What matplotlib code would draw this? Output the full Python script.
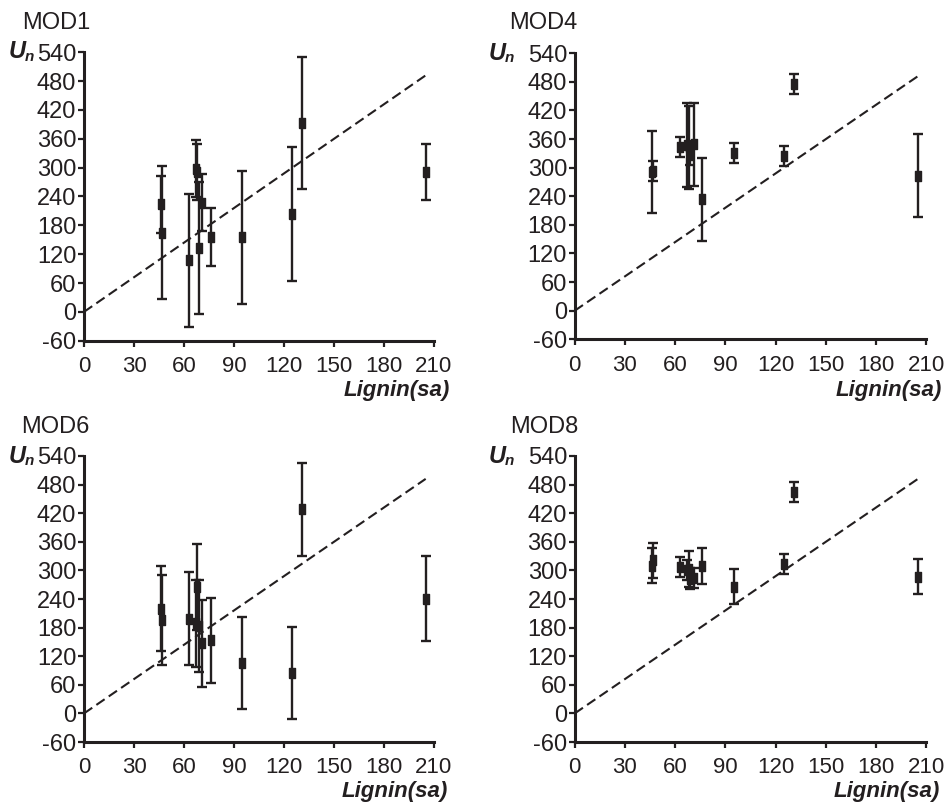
import numpy as np
import matplotlib
matplotlib.use("Agg")
import matplotlib.pyplot as plt

plt.rcParams['font.family'] = ['Liberation Sans', 'DejaVu Sans']
plt.rcParams['axes.unicode_minus'] = False

#----------------------------------------------------------------------
# Data
#----------------------------------------------------------------------
lignin = [46, 47, 63, 67, 68, 69, 71, 76, 95, 125, 131, 205]

mod1_y = [224, 165, 107, 298, 291, 133, 227, 156, 155, 204, 393, 291]
mod1_e = [59, 138, 139, 59, 59, 137, 59, 60, 138, 139, 138, 59]

mod4_y = [291, 293, 343, 347, 343, 326, 349, 234, 330, 325, 475, 283]
mod4_e = [87, 21, 21, 88, 87, 21, 87, 87, 21, 21, 21, 87]

mod6_y = [220, 196, 199, 189, 266, 183, 147, 153, 106, 85, 428, 241]
mod6_e = [90, 95, 97, 91, 90, 96, 91, 90, 96, 96, 97, 90]

mod8_y = [310, 321, 308, 301, 303, 283, 284, 309, 266, 313, 465, 287]
mod8_e = [37, 37, 21, 21, 37, 21, 21, 37, 37, 21, 21, 37]

line_x = [0, 205]
line_y = [0, 492]

names = ["MOD1", "MOD4", "MOD6", "MOD8"]
ys = [mod1_y, mod4_y, mod6_y, mod8_y]
es = [mod1_e, mod4_e, mod6_e, mod8_e]

xticks = np.arange(0, 211, 30)
yticks = np.arange(-60, 541, 60)

#----------------------------------------------------------------------
# Layout in pixels (944 x 805)
#----------------------------------------------------------------------
W, H = 944., 805.
fig = plt.figure(figsize=(9.44, 8.05), dpi=100)

# left, top, right, bottom of each plot area
boxes = [(84, 52.3, 434, 340.7), (574.7, 53.3, 926.3, 339.3),
         (84, 456, 434, 742), (574.7, 456, 926.3, 742)]
title_pos = [(22, 23), (509, 23), (21, 427), (510, 427)]
u_pos = [(9, 52), (489, 53), (9, 456), (489, 456)]
xl_pos = [(450, 390), (942, 390), (448, 791), (940, 791)]

col = '#231f20'
box_marker = [(-0.5, -1), (0.5, -1), (0.5, 1), (-0.5, 1), (-0.5, -1)]

for k in range(4):
	l, t, r, b = boxes[k]
	ax = fig.add_axes([l/W, 1-b/H, (r-l)/W, (b-t)/H])

	ax.plot(line_x, line_y, color=col, lw=1.5, dashes=(4.8, 2.4))
	ax.errorbar(lignin, ys[k], yerr=es[k], fmt='none', ecolor=col,
	            elinewidth=1.7, capsize=3.5, capthick=1.7)
	ax.plot(lignin, ys[k], ls='none', marker=box_marker, ms=7.5,
	        color=col, mec=col)

	ax.set_xlim(0, 210)
	ax.set_ylim(-60, 540)
	ax.set_xticks(xticks)
	ax.set_yticks(yticks)
	ax.spines['top'].set_visible(False)
	ax.spines['right'].set_visible(False)
	ax.spines['left'].set_linewidth(2.2)
	ax.spines['bottom'].set_linewidth(2.2)
	ax.spines['left'].set_color(col)
	ax.spines['bottom'].set_color(col)
	ax.tick_params(axis='x', direction='out', length=4, width=1.6,
	               pad=7, labelsize=16, colors=col)
	ax.tick_params(axis='y', direction='out', length=4.5, width=1.6,
	               pad=1, labelsize=17, colors=col)

	# panel texts
	tx, ty = title_pos[k]
	fig.text(tx/W, 1-ty/H, names[k], fontsize=17, color=col,
	         ha='left', va='center')
	ux, uy = u_pos[k]
	fig.text(ux/W, 1-uy/H, "U", fontsize=17, fontweight='bold',
	         fontstyle='italic', color=col, ha='left', va='center')
	fig.text((ux+16)/W, 1-(uy+5)/H, "n", fontsize=11, fontweight='bold',
	         fontstyle='italic', color=col, ha='left', va='center')
	lx, ly = xl_pos[k]
	fig.text(lx/W, 1-ly/H, "Lignin(sa)", fontsize=16, fontweight='bold',
	         fontstyle='italic', color=col, ha='right', va='center')

fig.savefig("out.png", dpi=100)
